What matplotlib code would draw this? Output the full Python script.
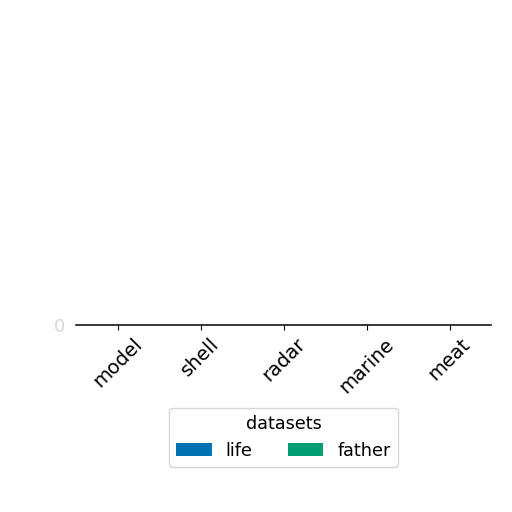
import matplotlib
matplotlib.use("Agg")
import matplotlib.pyplot as plt
import numpy as np

categories = ["model", "shell", "radar", "marine", "meat"]
life = [0, 0, 0, 0, 0]
father = [0, 0, 0, 0, 0]
series_names = ["life", "father"]
colors = ["#0173B2", "#029E73"]

plt.rcParams['font.family'] = ['DejaVu Sans']
fig = plt.figure(figsize=(5.12, 5.12), dpi=100)
ax = fig.add_axes([76/512, 187/512, 415/512, 300/512])

x = np.arange(len(categories))
w = 0.4
ax.bar(x - w/2, life, w, color=colors[0], label=series_names[0])
ax.bar(x + w/2, father, w, color=colors[1], label=series_names[1])

ax.set_xlim(-0.5, len(categories) - 0.5)
ax.set_ylim(0, 1)
ax.set_xticks(x)
ax.set_xticklabels(categories, rotation=45, ha="center", fontsize=14)
ax.set_yticks([0])
ax.set_yticklabels(["0"], fontsize=13, color="#d8d8d8")
ax.tick_params(axis="y", length=0, pad=8)
for s in ["top", "left", "right"]:
    ax.spines[s].set_visible(False)
ax.spines["bottom"].set_linewidth(1.1)

leg = ax.legend(title="datasets", ncol=2, loc="upper center",
                bbox_to_anchor=(0.5, -0.247), bbox_transform=ax.transAxes,
                fontsize=12.7, title_fontsize=12.7)

fig.savefig("out.png", dpi=100)
